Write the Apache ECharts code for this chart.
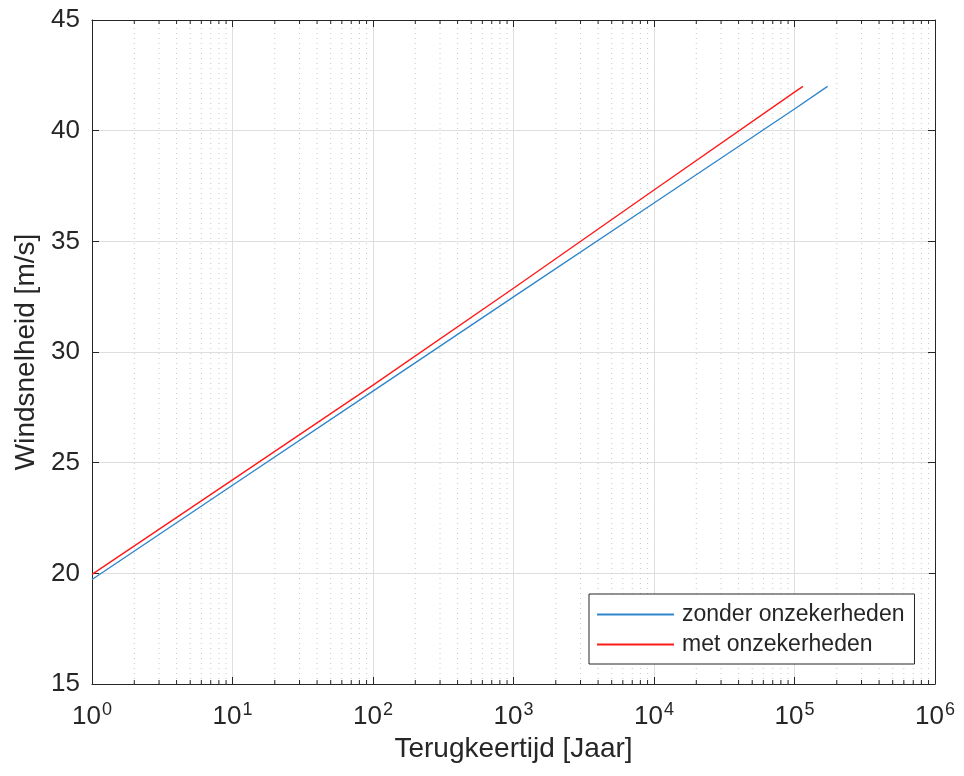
<!DOCTYPE html>
<html>
<head>
<meta charset="utf-8">
<script src="https://cdn.jsdelivr.net/npm/echarts@6/dist/echarts.min.js"></script>
<style>
  html, body { margin: 0; padding: 0; background: #fff; }
  #chart { width: 964px; height: 776px; }
</style>
</head>
<body>
<div id="chart"></div>
<script>
// return period (years) and wind speed (m/s)
const periodZonder = [1, 10, 100, 1000, 10000, 100000, 172000];
const windZonder = [19.72, 23.98, 28.23, 32.49, 36.73, 40.98, 42.0];
const periodMet = [1, 10, 100, 1000, 10000, 100000, 115000];
const windMet = [19.95, 24.22, 28.5, 32.88, 37.32, 41.74, 42.0];

const seriesNames = ['zonder onzekerheden', 'met onzekerheden'];
const yTicks = [15, 20, 25, 30, 35, 40, 45];

// minor log positions 2..9 x 10^k
const minorPos = [];
for (let k = 0; k < 6; k++) {
  for (let m = 2; m <= 9; m++) minorPos.push(m * Math.pow(10, k));
}

const FONT = '"Liberation Sans", Arial, sans-serif';
const TXT = '#262626';
const yMin = yTicks[0], yMax = yTicks[yTicks.length - 1];

const chart = echarts.init(document.getElementById('chart'));

const xBase = {
  type: 'log',
  logBase: 10,
  min: 1,
  max: 1e6,
  splitNumber: 6,
  axisLine: { show: true, onZero: false, lineStyle: { color: TXT, width: 1 } },
  axisTick: { show: true, inside: true, length: 7, lineStyle: { color: TXT } },
  minorTick: { show: false },
  minorSplitLine: { show: false }
};
const yBase = {
  type: 'value',
  min: yMin,
  max: yMax,
  interval: 5,
  axisLine: { show: true, onZero: false, lineStyle: { color: TXT, width: 1 } },
  axisTick: { show: true, inside: true, length: 7, lineStyle: { color: TXT } }
};

chart.setOption({
  animation: false,
  backgroundColor: '#fff',
  textStyle: { fontFamily: FONT },
  grid: { left: 92, right: 29, top: 20, bottom: 92 },
  legend: {
    data: seriesNames,
    orient: 'vertical',
    left: 589,
    top: 594,
    padding: [9, 10, 8, 8],
    itemGap: 7,
    itemWidth: 77,
    itemHeight: 2,
    icon: 'rect',
    borderColor: TXT,
    borderWidth: 1,
    borderRadius: 0,
    backgroundColor: '#fff',
    textStyle: { fontFamily: FONT, fontSize: 23, color: TXT, padding: [0, 0, 0, 3] }
  },
  xAxis: [
    Object.assign({}, xBase, {
      position: 'bottom',
      name: 'Terugkeertijd [Jaar]',
      nameLocation: 'middle',
      nameGap: 49,
      nameTextStyle: { fontFamily: FONT, fontSize: 28, color: TXT },
      axisLabel: {
        margin: 17,
        formatter: function (v) {
          return '{b|10}{s|' + Math.round(Math.log10(v)) + '}';
        },
        rich: {
          b: { fontFamily: FONT, fontSize: 26, color: TXT },
          s: { fontFamily: FONT, fontSize: 18, color: TXT, padding: [0, 0, 14, 1] }
        }
      },
      splitLine: { show: true, lineStyle: { color: '#dedede', width: 1 } }
    }),
    Object.assign({}, xBase, {
      position: 'top',
      axisLabel: { show: false },
      splitLine: { show: false }
    })
  ],
  yAxis: [
    Object.assign({}, yBase, {
      position: 'left',
      name: 'Windsnelheid [m/s]',
      nameLocation: 'middle',
      nameGap: 48,
      nameTextStyle: { fontFamily: FONT, fontSize: 28, color: TXT },
      axisLabel: { margin: 12, fontFamily: FONT, fontSize: 26, color: TXT },
      splitLine: { show: true, lineStyle: { color: '#dedede', width: 1 } }
    }),
    Object.assign({}, yBase, {
      position: 'right',
      axisLabel: { show: false },
      splitLine: { show: false }
    })
  ],
  series: [
    {
      type: 'custom',
      silent: true,
      z: 1,
      xAxisIndex: 0,
      yAxisIndex: 0,
      data: minorPos.map(function (v) { return [v]; }),
      renderItem: function (params, api) {
        const v = api.value(0);
        const p0 = api.coord([v, yMin]);
        const p1 = api.coord([v, yMax]);
        return {
          type: 'group',
          children: [
            {
              type: 'line',
              shape: { x1: p0[0], y1: p0[1], x2: p1[0], y2: p1[1] },
              style: { stroke: '#c8c8c8', lineWidth: 1, lineDash: [1, 4] }
            },
            {
              type: 'line',
              shape: { x1: p0[0], y1: p0[1], x2: p0[0], y2: p0[1] - 4 },
              style: { stroke: TXT, lineWidth: 1 }
            },
            {
              type: 'line',
              shape: { x1: p1[0], y1: p1[1], x2: p1[0], y2: p1[1] + 4 },
              style: { stroke: TXT, lineWidth: 1 }
            }
          ]
        };
      }
    },
    {
      name: seriesNames[0],
      type: 'line',
      z: 3,
      showSymbol: false,
      symbol: 'none',
      color: '#2f86cc',
      lineStyle: { width: 1.4, color: '#2f86cc' },
      data: periodZonder.map(function (t, i) { return [t, windZonder[i]]; })
    },
    {
      name: seriesNames[1],
      type: 'line',
      z: 3,
      showSymbol: false,
      symbol: 'none',
      color: '#ff1a1a',
      lineStyle: { width: 1.4, color: '#ff1a1a' },
      data: periodMet.map(function (t, i) { return [t, windMet[i]]; })
    }
  ]
});
</script>
</body>
</html>
